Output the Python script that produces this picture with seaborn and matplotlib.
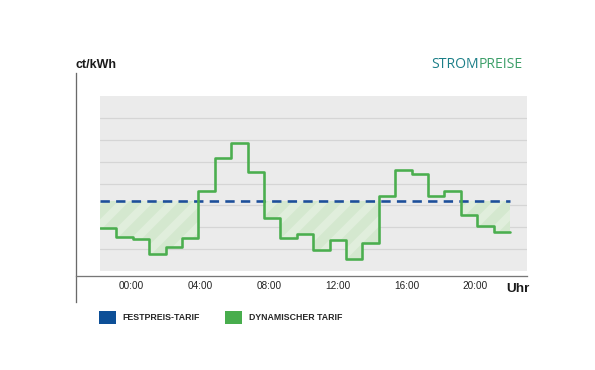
import numpy as np
import matplotlib
matplotlib.use("Agg")
import matplotlib.pyplot as plt
from matplotlib.patches import Patch
import seaborn as sns

# dynamic tariff, one value per hourly slot (ct/kWh)
dyn_prices = [9.8, 7.8, 7.3, 3.9, 5.4, 7.5, 18.4, 25.8, 29.2, 22.6, 12.1, 7.5,
              8.4, 4.8, 7.1, 2.7, 6.3, 17.1, 23.1, 22.2, 17.2, 18.4, 12.7, 10.3, 8.9]
fixed_price = 16.0
hour_labels = ["00:00", "04:00", "08:00", "12:00", "16:00", "20:00"]
legend_labels = ["FESTPREIS-TARIF", "DYNAMISCHER TARIF"]

DPI = 150
W, H = 595, 370


def pt(px):
    # pixel size -> points at the chosen dpi
    return px * 72 / DPI


sns.set_style("white")
plt.rcParams["font.family"] = ["Liberation Sans", "DejaVu Sans"]
plt.rcParams["hatch.linewidth"] = pt(8)

green = "#4bae4f"
blue = "#1d4f9a"

fig = plt.figure(figsize=(W / DPI, H / DPI), dpi=DPI)
ax = fig.add_axes([100 / W, 1 - 271 / H, 427 / W, 175 / H])
ax.set_facecolor("#ebebeb")

slots = np.arange(len(dyn_prices) + 1)
y_step = np.array(dyn_prices + [dyn_prices[-1]])

# savings area below the fixed price
ax.fill_between(slots, np.minimum(y_step, fixed_price), fixed_price, step="post",
                facecolor="#d4e8cf", edgecolor="#e0eedc", hatch="//", linewidth=0, zorder=1)

sns.lineplot(x=[slots[0], slots[-1]], y=[fixed_price, fixed_price], color=blue,
             linewidth=pt(2.6), linestyle=(0, (3.6, 2.4)), ax=ax, zorder=2)
sns.lineplot(x=slots, y=y_step, drawstyle="steps-post", estimator=None, color=green,
             linewidth=pt(2.6), ax=ax, zorder=3)

ax.set_xlim(0, 427 / 16.4)
ax.set_ylim(0, 40)
ax.set_yticks(np.arange(5, 40, 5))
ax.set_yticklabels([])
ax.grid(axis="y", color="#d5d5d5", linewidth=pt(1.2))
ax.grid(axis="x", visible=False)
ax.set_axisbelow(True)

tick_pos = 1.9 + 4.2 * np.arange(len(hour_labels))
ax.set_xticks(tick_pos)
ax.set_xticklabels(hour_labels)
ax.tick_params(axis="both", length=0)
ax.tick_params(axis="x", pad=pt(5), labelsize=pt(10), labelcolor="#222222")
for lab in ax.get_xticklabels():
    lab.set_fontweight("bold")
ax.set_xlabel("")
ax.set_ylabel("")

for s in ["top", "right"]:
    ax.spines[s].set_visible(False)
ax.spines["left"].set_position(("outward", pt(24)))
ax.spines["left"].set_bounds(-7.1, 45.3)
ax.spines["left"].set_color("#6a6a6a")
ax.spines["left"].set_linewidth(pt(1.3))
ax.spines["bottom"].set_position(("outward", pt(5)))
ax.spines["bottom"].set_bounds(-24 / 16.4, 427 / 16.4)
ax.spines["bottom"].set_color("#777777")
ax.spines["bottom"].set_linewidth(pt(1.3))

fig.text(76 / W, 1 - 65 / H, "ct/kWh", fontsize=pt(12.5), fontweight="bold",
         color="#1a1a1a", ha="left", va="center")
fig.text(506 / W, 1 - 289 / H, "Uhr", fontsize=pt(13.5), fontweight="bold",
         color="#1a1a1a", ha="left", va="center")

# title in two colours
t2 = fig.text(523 / W, 1 - 64 / H, "PREISE", fontsize=pt(14), color="#3d9f69",
              ha="right", va="center", family=["Open Sans", "DejaVu Sans"])
renderer = fig.canvas.get_renderer()
bb = t2.get_window_extent(renderer=renderer)
fig.text(bb.x0 / W, 1 - 64 / H, "STROM", fontsize=pt(14), color="#1c7f88",
         ha="right", va="center", family=["Open Sans", "DejaVu Sans"])

handles = [Patch(facecolor="#0d4f97", edgecolor="none"),
           Patch(facecolor="#48ad4d", edgecolor="none")]
fig.legend(handles, legend_labels, loc="upper left", bbox_to_anchor=(99 / W, 1 - 311 / H),
           ncol=2, frameon=False, borderpad=0, borderaxespad=0,
           prop={"size": pt(8.7), "weight": "bold"},
           handlelength=1.9, handleheight=1.9, handletextpad=0.8, columnspacing=2.9)

fig.savefig("out.png", dpi=DPI)
